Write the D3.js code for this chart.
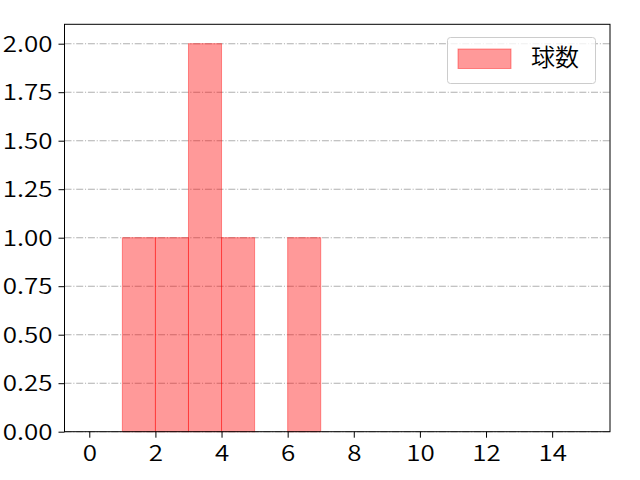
<!DOCTYPE html>
<html><head><meta charset="utf-8">
<script src="https://cdn.jsdelivr.net/npm/d3@7"></script>
<style>body{margin:0;background:#fff}svg{display:block}text{font-family:"Noto Sans CJK JP","Noto Sans",sans-serif;font-weight:350}</style>
</head><body>
<script>
const binStarts = [1, 2, 3, 4, 6];
const binCounts = [1, 1, 2, 1, 1];
const binWidth = 1;
const xTicks = [0, 2, 4, 6, 8, 10, 12, 14];
const yTicks = [0, 0.25, 0.5, 0.75, 1.0, 1.25, 1.5, 1.75, 2.0];
const seriesName = "球数";

const W = 640, H = 480;
const L = 64.5, R = 610, T = 24.3, B = 431.7;
const SX = 1.18;
const svg = d3.select("body").append("svg").attr("width", W).attr("height", H);
const x = d3.scaleLinear().domain([-0.75, 15.75]).range([L, R]);
const y = d3.scaleLinear().domain([0, 2.1]).range([B, T]);

// grid
svg.append("g").selectAll("line").data(yTicks).join("line")
  .attr("x1", L).attr("x2", R).attr("y1", d => y(d)).attr("y2", d => y(d))
  .attr("stroke", "#b0b0b0").attr("stroke-width", 1.1).attr("stroke-dasharray", "7,1.8,1.1,1.8");

// bars
svg.append("g").selectAll("rect").data(binStarts).join("rect")
  .attr("x", d => x(d)).attr("width", x(binWidth) - x(0))
  .attr("y", (d, i) => y(binCounts[i])).attr("height", (d, i) => y(0) - y(binCounts[i]))
  .attr("fill", "rgba(255,0,0,0.4)").attr("stroke", "rgba(255,0,0,0.4)").attr("stroke-width", 1);

// axes
const xa = svg.append("g").attr("transform", `translate(0,${B})`)
  .call(d3.axisBottom(x).tickValues(xTicks).tickSize(6).tickPadding(0).tickFormat(d3.format("d")));
const ya = svg.append("g").attr("transform", `translate(${L},0)`)
  .call(d3.axisLeft(y).tickValues(yTicks).tickSize(6).tickPadding(0).tickFormat(d3.format(".2f")));
[xa, ya].forEach(a => {
  a.select(".domain").remove();
  a.selectAll("text").attr("font-size", 22).attr("fill", "#000");
  a.selectAll("line").attr("stroke", "#000").attr("stroke-width", 1);
});
xa.selectAll("text").attr("dy", null).attr("y", 29).attr("x", 0).attr("transform", `scale(${SX},1)`);
ya.selectAll("text").attr("dy", "0.35em").attr("x", -12 / SX).attr("transform", `scale(${SX},1)`);
svg.append("rect").attr("x", L).attr("y", T).attr("width", R - L).attr("height", B - T)
  .attr("fill", "none").attr("stroke", "#000").attr("stroke-width", 1);

// legend
const lg = svg.append("g");
lg.append("rect").attr("x", 447.5).attr("y", 37.5).attr("width", 148).attr("height", 46).attr("rx", 3)
  .attr("fill", "rgba(255,255,255,0.8)").attr("stroke", "#cccccc").attr("stroke-width", 1);
lg.append("rect").attr("x", 458).attr("y", 49).attr("width", 53).attr("height", 19.5)
  .attr("fill", "rgba(255,0,0,0.4)").attr("stroke", "rgba(255,0,0,0.4)").attr("stroke-width", 1);
lg.append("text").attr("x", 531).attr("y", 65.5).attr("font-size", 24).attr("fill", "#000").text(seriesName);
</script>
</body></html>
